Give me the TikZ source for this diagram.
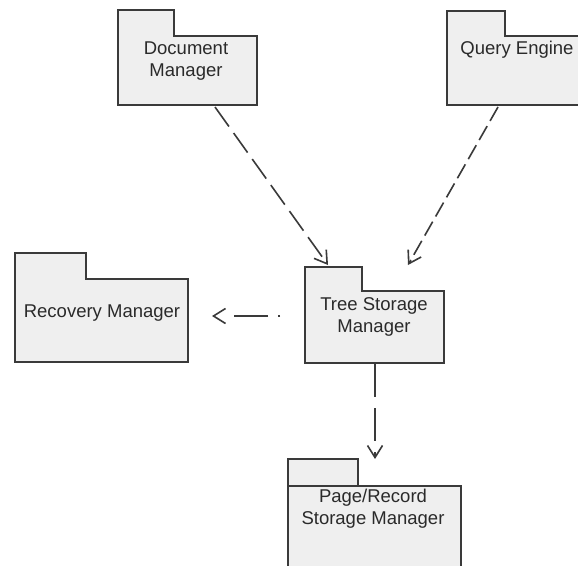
\documentclass[tikz,border=0pt]{standalone}
\usepackage{fontspec}
\setmainfont{Liberation Sans}
\usetikzlibrary{arrows.meta}
\definecolor{pkgline}{HTML}{3A3A3A}
\definecolor{pkgfill}{HTML}{EFEFEF}
\definecolor{pkgtext}{HTML}{2A2A2A}
\tikzset{
  pkgshape/.style={draw=pkgline, fill=pkgfill, line width=1.6pt, line join=miter},
  pkglabel/.style={text=pkgtext, align=center, inner sep=0pt,
    font=\fontsize{18.5}{22}\selectfont},
  dep/.style={draw=pkgline, line width=1.6pt,
    -{Straight Barb[length=12pt,width=15pt,line width=1.6pt]}},
}
\begin{document}
\begin{tikzpicture}[x=1pt,y=-1pt]
  \useasboundingbox (0,0) rectangle (578,565);
  \clip (0,0) rectangle (578,565);
  \fill[white] (0,0) rectangle (578,565);

  % package outlines: folder tab plus body
  \draw[pkgshape] (118,10) -| (174,36) -| (257,105) -| cycle;
  \draw[pkgshape] (447,11) -| (505,36) -| (590,105) -| cycle;
  \draw[pkgshape] (15,253) -| (86,279) -| (188,362) -| cycle;
  \draw[pkgshape] (305,267) -| (362,291) -| (444,363) -| cycle;
  \draw[pkgshape] (288,459) -| (358,486) -| (461,580) -| cycle;
  \draw[draw=pkgline, line width=1.6pt] (288,486) -- (358,486);

  % package names
  \node[pkglabel] (docmgr)   at (186,61)  {Document\\Manager};
  \node[pkglabel] (query)    at (517,50)  {Query Engine};
  \node[pkglabel] (recovery) at (102,313) {Recovery Manager};
  \node[pkglabel] (tree)     at (374,317) {Tree Storage\\Manager};
  \node[pkglabel] (page)     at (373,509) {Page/Record\\Storage Manager};

  % connector end points
  \coordinate (docOut)   at (215,107);
  \coordinate (treeInA)  at (328,265);
  \coordinate (queryOut) at (498,107);
  \coordinate (treeInB)  at (408,265);
  \coordinate (treeL)    at (280,316);
  \coordinate (recIn)    at (212,316);
  \coordinate (treeB)    at (375,364);
  \coordinate (pageIn)   at (375,459);

  % dependencies
  \draw[dep, dash pattern=on 24pt off 8pt] (docOut) -- (treeInA);
  \draw[dep, dash pattern=on 16pt off 6pt] (queryOut) -- (treeInB);
  \draw[dep, dash pattern=on 2pt off 10pt on 34pt off 40pt] (treeL) -- (recIn);
  \draw[dep, dash pattern=on 33pt off 11pt] (treeB) -- (pageIn);
\end{tikzpicture}
\end{document}
